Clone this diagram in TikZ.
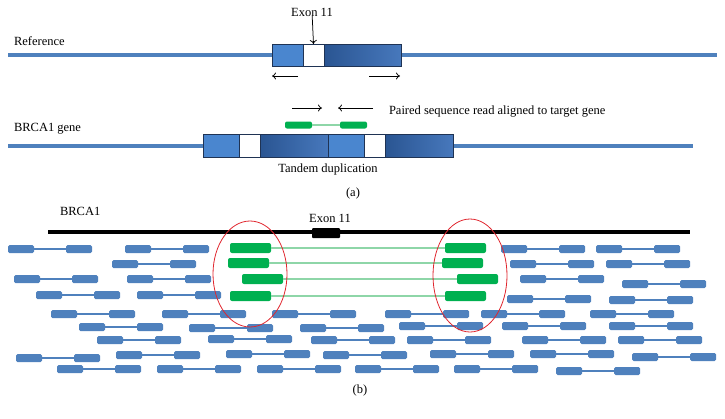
\documentclass[tikz,border=0pt]{standalone}
\usepackage{fontspec}
\setmainfont{Liberation Serif}
\usepackage{xcolor}
\usetikzlibrary{arrows.meta}
\usetikzlibrary{positioning}

\definecolor{lineblue}{HTML}{4F81BD}
\definecolor{segline}{HTML}{1F3354}
\definecolor{seglight}{HTML}{4A86CF}
\definecolor{segdarkL}{HTML}{2A5592}
\definecolor{segdarkR}{HTML}{4778BC}
\definecolor{readgreen}{HTML}{00B050}
\definecolor{pairgreen}{HTML}{8ED6A8}
\definecolor{circred}{HTML}{E0262E}

\begin{document}
\begin{tikzpicture}[x=1pt,y=-1pt,
  every node/.style={inner sep=0pt,outer sep=0pt},
  lbl/.style={font=\fontsize{12.5}{14}\selectfont},
  arr/.style={-{To[length=4pt,width=7pt]},line width=.75pt},
  geneline/.style={lineblue,line width=3.5pt},
  seg/.style={draw=segline,line width=.8pt,minimum height=22pt,anchor=west},
  light/.style={seg,fill=seglight},
  exon/.style={seg,fill=white,minimum width=21pt},
  dark/.style={seg,left color=segdarkL,right color=segdarkR},
  rd/.style={fill=lineblue,rounded corners=1.5pt,minimum width=26pt,minimum height=8pt,anchor=west},
  rdline/.style={lineblue,line width=1.1pt},
  gr/.style={fill=readgreen,rounded corners=2pt,minimum width=41pt,minimum height=10pt,anchor=west},
  grline/.style={pairgreen,line width=1.1pt},
  oval/.style={circred,line width=.8pt}]

  \useasboundingbox (0,0) rectangle (725,418);

  \def\pair#1#2#3{%
    \node[rd] (#3a) at (#1,#2) {};
    \node[rd] (#3b) at (#1+58,#2) {};
    \draw[rdline] (#3a) -- (#3b);}

  % (a) reference
  \node[lbl,anchor=west] (reflbl) at (14,41) {Reference};
  \coordinate (refL) at (8,55);
  \coordinate (refR) at (717,55);
  \draw[geneline] (refL) -- (refR);
  \node[light,minimum width=31pt] (ra1) at (272,55) {};
  \node[exon,right=0pt of ra1] (ra2) {};
  \node[dark,minimum width=77pt,right=0pt of ra2] (ra3) {};
  \node[lbl] (exa) at (312,12) {Exon 11};
  \draw[arr] (exa) -- (ra2.north);
  \coordinate (pl1) at (298,76);
  \coordinate (pl2) at (272,76);
  \coordinate (pr1) at (369,76);
  \coordinate (pr2) at (400,76);
  \draw[arr] (pl1) -- (pl2);
  \draw[arr] (pr1) -- (pr2);

  % (a) brca1 gene with tandem duplication
  \node[lbl,anchor=west] (genelbl) at (14,129) {BRCA1 gene};
  \coordinate (genL) at (8,146);
  \coordinate (genR) at (693,146);
  \draw[geneline] (genL) -- (genR);
  \node[light,minimum width=36pt,minimum height=23pt] (ga1) at (203,146) {};
  \node[exon,minimum height=23pt,right=0pt of ga1] (ga2) {};
  \node[dark,minimum width=68pt,minimum height=23pt,right=0pt of ga2] (ga3) {};
  \node[light,minimum width=36pt,minimum height=23pt,right=0pt of ga3] (ga4) {};
  \node[exon,minimum height=23pt,right=0pt of ga4] (ga5) {};
  \node[dark,minimum width=68pt,minimum height=23pt,right=0pt of ga5] (ga6) {};
  \node[lbl] (tandem) at (328,169) {Tandem duplication};

  % paired read
  \node[fill=readgreen,rounded corners=2pt,minimum width=27pt,minimum height=7pt,anchor=west] (ma) at (285,125) {};
  \node[fill=readgreen,rounded corners=2pt,minimum width=27pt,minimum height=7pt,anchor=west] (mb) at (340,125) {};
  \draw[grline] (ma) -- (mb);
  \coordinate (qa1) at (292,108);
  \coordinate (qa2) at (322,108);
  \coordinate (qb1) at (373,108);
  \coordinate (qb2) at (338,108);
  \draw[arr] (qa1) -- (qa2);
  \draw[arr] (qb1) -- (qb2);
  \node[lbl,anchor=west] (pairlbl) at (389,112) {Paired sequence read aligned to target gene};
  \node[lbl] (capa) at (353,193) {(a)};

  % (b) brca1 with exon 11
  \node[lbl,anchor=west] (brcalbl) at (60,211) {BRCA1};
  \coordinate (brL) at (48,232);
  \coordinate (brR) at (690,232);
  \draw[line width=4.5pt] (brL) -- (brR);
  \node[fill=black,rounded corners=1pt,minimum width=28pt,minimum height=10pt] (exb) at (326,233) {};
  \node[lbl] (exblbl) at (330,218) {Exon 11};

  % reads, row by row
  \pair{8}{249}{p1} \pair{125}{249}{p2} \pair{501}{249}{p3} \pair{596}{249}{p4}
  \pair{112}{264}{p5} \pair{510}{264}{p6} \pair{606}{264}{p7}
  \pair{14}{279}{p8} \pair{127}{279}{p9} \pair{520}{279}{p10} \pair{622}{284}{p11}
  \pair{36}{295}{p12} \pair{137}{295}{p13} \pair{507}{299}{p14} \pair{609}{300}{p15}
  \pair{51}{314}{p16} \pair{162}{314}{p17} \pair{272}{314}{p18} \pair{385}{314}{p19}
  \pair{481}{314}{p20} \pair{590}{314}{p21}
  \pair{79}{327}{p22} \pair{189}{328}{p23} \pair{300}{328}{p24} \pair{399}{326}{p25}
  \pair{502}{326}{p26} \pair{609}{326}{p27}
  \pair{97}{340}{p28} \pair{208}{339}{p29} \pair{311}{340}{p30} \pair{407}{340}{p31}
  \pair{522}{340}{p32} \pair{618}{340}{p33}
  \pair{16}{358}{p34} \pair{116}{355}{p35} \pair{226}{354}{p36} \pair{323}{355}{p37}
  \pair{430}{354}{p38} \pair{530}{354}{p39} \pair{632}{357}{p40}
  \pair{57}{369}{p41} \pair{157}{369}{p42} \pair{257}{369}{p43} \pair{355}{369}{p44}
  \pair{454}{369}{p45} \pair{556}{371}{p46}

  % reads spanning the duplication
  \node[gr] (g1a) at (230,248) {};
  \node[gr] (g1b) at (445,248) {};
  \node[gr] (g2a) at (228,263) {};
  \node[gr] (g2b) at (442,263) {};
  \node[gr] (g3a) at (242,279) {};
  \node[gr] (g3b) at (457,279) {};
  \node[gr] (g4a) at (230,296) {};
  \node[gr] (g4b) at (445,296) {};
  \draw[grline] (g1a) -- (g1b);
  \draw[grline] (g2a) -- (g2b);
  \draw[grline] (g3a) -- (g3b);
  \draw[grline] (g4a) -- (g4b);

  \draw[oval] (250,274) ellipse (37 and 53);
  \draw[oval] (470,275.5) ellipse (37 and 56.5);

  \node[lbl] (capb) at (360,390) {(b)};
\end{tikzpicture}
\end{document}
